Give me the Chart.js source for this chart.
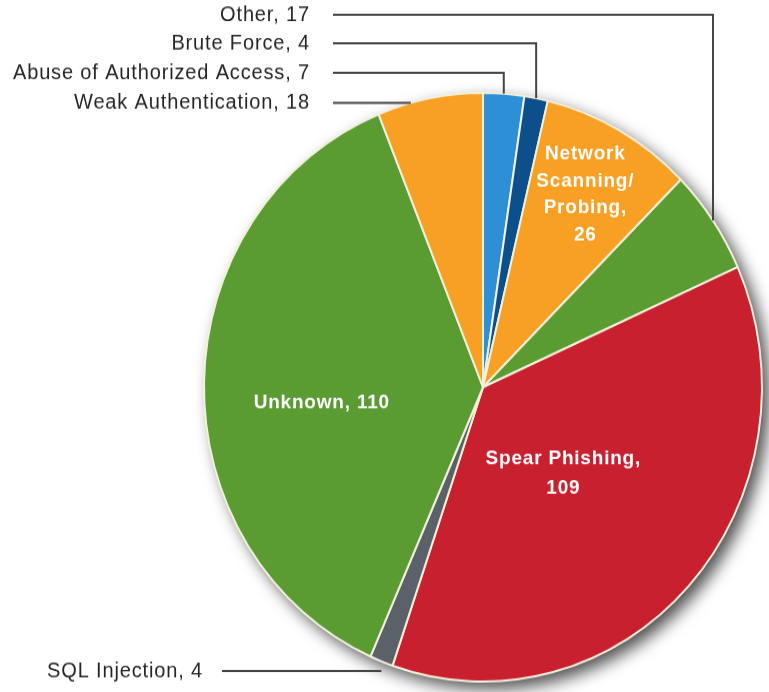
<!DOCTYPE html>
<html>
<head>
<meta charset="utf-8">
<script src="https://cdn.jsdelivr.net/npm/chart.js@4.4.1/dist/chart.umd.min.js"></script>
<style>
  html, body { margin: 0; padding: 0; background: #fff; width: 769px; height: 692px; overflow: hidden; }
  /* the pie sits a little taller than wide, so the canvas gets a slight vertical stretch */
  #chart { display: block; transform: scaleY(1.055); transform-origin: 0 0; }
</style>
</head>
<body>
<canvas id="chart" width="769" height="656"></canvas>
<script>
const categories = [
  'Abuse of Authorized Access',
  'Brute Force',
  'Network Scanning/Probing',
  'Other',
  'Spear Phishing',
  'SQL Injection',
  'Unknown',
  'Weak Authentication'
];
const incidents = [7, 4, 26, 17, 109, 4, 110, 18];
const sliceColors = [
  '#2d8fd5', // abuse - light blue
  '#0d4f8b', // brute force - dark blue
  '#f7a023', // scanning - orange
  '#5a9b32', // other - green
  '#c9202f', // spear phishing - red
  '#5b6168', // sql injection - gray
  '#5a9b32', // unknown - green
  '#f7a023'  // weak auth - orange
];

// soft drop shadow under the whole pie
const pieShadow = {
  id: 'pieShadow',
  beforeDatasetsDraw(chart) {
    const arc = chart.getDatasetMeta(0).data[0];
    if (!arc) return;
    const ctx = chart.ctx;
    ctx.save();
    ctx.shadowColor = 'rgba(0,0,0,0.7)';
    ctx.shadowBlur = 16;
    ctx.shadowOffsetX = 7;
    ctx.shadowOffsetY = 7;
    ctx.fillStyle = '#888';
    ctx.beginPath();
    ctx.arc(arc.x, arc.y, arc.outerRadius, 0, Math.PI * 2);
    ctx.fill();
    ctx.restore();
  }
};

// outside labels with leader lines + white labels inside the big slices
const callouts = {
  id: 'callouts',
  afterDatasetsDraw(chart, args, opts) {
    const ctx = chart.ctx;
    const arcs = chart.getDatasetMeta(0).data;
    const labels = chart.data.labels;
    const values = chart.data.datasets[0].data;

    ctx.save();
    ctx.font = opts.outerFont;
    ctx.letterSpacing = opts.outerSpacing;
    ctx.fillStyle = '#262626';
    ctx.strokeStyle = '#454545';
    ctx.lineWidth = 2;
    ctx.textAlign = 'right';
    ctx.textBaseline = 'middle';

    opts.outside.forEach(o => {
      const arc = arcs[o.index];
      const mid = (arc.startAngle + arc.endAngle) / 2;
      const r = arc.outerRadius;
      const px = arc.x + r * Math.cos(mid);
      const py = arc.y + r * Math.sin(mid);
      const right = o.textRight ?? opts.textRight;
      const from = o.lineFrom ?? opts.lineFrom;

      ctx.fillText(`${labels[o.index]}, ${values[o.index]}`, right, o.y);

      ctx.beginPath();
      ctx.moveTo(from, o.y);
      if (o.elbow) {
        ctx.lineTo(px, o.y);
        ctx.lineTo(px, py);
      } else {
        // run flat until the pie edge or the slice, whichever comes first
        const dy = o.y - arc.y;
        const edgeX = arc.x - Math.sqrt(Math.max(r * r - dy * dy, 0));
        ctx.lineTo(Math.min(edgeX, px), o.y);
      }
      ctx.stroke();
    });

    ctx.font = opts.innerFont;
    ctx.letterSpacing = opts.innerSpacing;
    ctx.fillStyle = '#fff';
    ctx.textAlign = 'center';
    opts.inside.forEach(l => {
      const arc = arcs[l.index];
      const mid = (arc.startAngle + arc.endAngle) / 2 + l.turn * Math.PI / 180;
      const d = arc.outerRadius * l.frac;
      const cx = arc.x + d * Math.cos(mid);
      const cy = arc.y + d * Math.sin(mid);
      const lines = l.lines.map(s => s.replace('{v}', values[l.index]));
      const top = cy - (lines.length - 1) * l.lineHeight / 2;
      lines.forEach((s, i) => ctx.fillText(s, cx, top + i * l.lineHeight));
    });
    ctx.restore();
  }
};

new Chart(document.getElementById('chart'), {
  type: 'pie',
  data: {
    labels: categories,
    datasets: [{
      data: incidents,
      backgroundColor: sliceColors,
      borderColor: '#f3f0dc',
      borderWidth: 2
    }]
  },
  options: {
    responsive: false,
    animation: false,
    layout: { padding: { left: 203, right: 6, top: 87, bottom: 9 } },
    plugins: {
      legend: { display: false },
      tooltip: { enabled: false },
      callouts: {
        outerFont: '20px "Liberation Sans", Arial, sans-serif',
        outerSpacing: '0.85px',
        innerFont: 'bold 19px "Liberation Sans", Arial, sans-serif',
        innerSpacing: '0.8px',
        textRight: 310,
        lineFrom: 333,
        outside: [
          { index: 3, y: 14, elbow: true },
          { index: 1, y: 41, elbow: true },
          { index: 0, y: 69, elbow: true },
          { index: 7, y: 97.5 },
          { index: 5, y: 636, textRight: 203, lineFrom: 222 }
        ],
        inside: [
          { index: 2, lines: ['Network', 'Scanning/', 'Probing,', '{v}'], frac: 0.75, turn: 0, lineHeight: 25.5 },
          { index: 4, lines: ['Spear Phishing,', '{v}'], frac: 0.41, turn: 3, lineHeight: 28 },
          { index: 6, lines: ['Unknown, {v}'], frac: 0.58, turn: -6, lineHeight: 26 }
        ]
      }
    }
  },
  plugins: [pieShadow, callouts]
});
</script>
</body>
</html>
